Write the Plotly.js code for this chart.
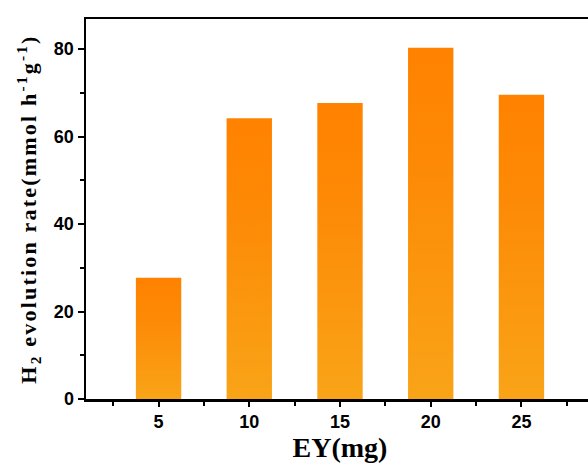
<!DOCTYPE html>
<html>
<head>
<meta charset="utf-8">
<script src="https://cdn.plot.ly/plotly-3.0.1.min.js"></script>
<style>
html,body{margin:0;padding:0;background:#fff;overflow:hidden;width:588px;height:466px;}
#chart{width:600px;height:466px;}
</style>
</head>
<body>
<div id="chart"></div>
<script>
const eyMass = [5, 10, 15, 20, 25];
const h2Rate = [27.7, 64.2, 67.7, 80.3, 69.6];
const xTicks = [5, 10, 15, 20, 25];
const yTicks = [0, 20, 40, 60, 80];

const trace = {
  type: 'bar',
  x: eyMass,
  y: h2Rate,
  width: 2.5,
  marker: {color: '#FB9210', line: {width: 0}},
  hoverinfo: 'x+y'
};

const layout = {
  width: 600, height: 466,
  margin: {l: 86, r: 6, t: 19, b: 67},
  paper_bgcolor: '#fff', plot_bgcolor: '#fff',
  showlegend: false,
  xaxis: {
    range: [1, 29], tickvals: xTicks, ticktext: xTicks.map(String),
    showline: true, linecolor: '#000', linewidth: 2.5, mirror: true,
    ticks: 'outside', ticklen: 5, tickwidth: 2, tickcolor: '#000',
    minor: {dtick: 2.5, tick0: 0, ticks: 'outside', ticklen: 4, tickwidth: 2, tickcolor: '#000'},
    showgrid: false, zeroline: false,
    tickfont: {family: 'Liberation Sans, Arial', size: 18, color: '#000', weight: 'bold'},
    title: {text: 'EY(mg)', standoff: 4, font: {family: 'Liberation Serif, Times New Roman', size: 28, color: '#000', weight: 'bold'}}
  },
  yaxis: {
    range: [0, 86.9], tickvals: yTicks, ticktext: yTicks.map(String),
    showline: true, linecolor: '#000', linewidth: 2.5,
    ticks: 'outside', ticklen: 6, tickwidth: 2, tickcolor: '#000',
    minor: {dtick: 10, ticks: 'outside', ticklen: 4, tickwidth: 2, tickcolor: '#000'},
    showgrid: false, zeroline: false,
    tickfont: {family: 'Liberation Sans, Arial', size: 18, color: '#000', weight: 'bold'},
    title: {text: 'H<sub>2</sub> evolution rate(mmol h<sup>-1</sup>g<sup>-1</sup>)', standoff: 11, font: {family: 'Liberation Serif, Times New Roman', size: 22, color: '#000', weight: 'bold'}}
  }
};

Plotly.newPlot('chart', [trace], layout, {displayModeBar: false, staticPlot: true}).then(function(gd){
  const svg = gd.querySelector('svg.main-svg');
  const ns = 'http://www.w3.org/2000/svg';
  let defs = svg.querySelector('defs');
  if (!defs) { defs = document.createElementNS(ns, 'defs'); svg.insertBefore(defs, svg.firstChild); }
  const grad = document.createElementNS(ns, 'linearGradient');
  grad.setAttribute('id', 'barGrad');
  grad.setAttribute('x1', '0'); grad.setAttribute('y1', '0');
  grad.setAttribute('x2', '0'); grad.setAttribute('y2', '1');
  [['0', '#FF8200'], ['0.35', '#FD8A06'], ['1', '#F9A418']].forEach(function(s){
    const st = document.createElementNS(ns, 'stop');
    st.setAttribute('offset', s[0]); st.setAttribute('stop-color', s[1]);
    grad.appendChild(st);
  });
  defs.appendChild(grad);
  gd.querySelectorAll('.trace.bars .point path').forEach(function(p){
    p.style.fill = 'url(#barGrad)';
  });
  const yt = gd.querySelector('.ytitle');
  if (yt) { yt.style.letterSpacing = '2.2px'; }
});
</script>
</body>
</html>
